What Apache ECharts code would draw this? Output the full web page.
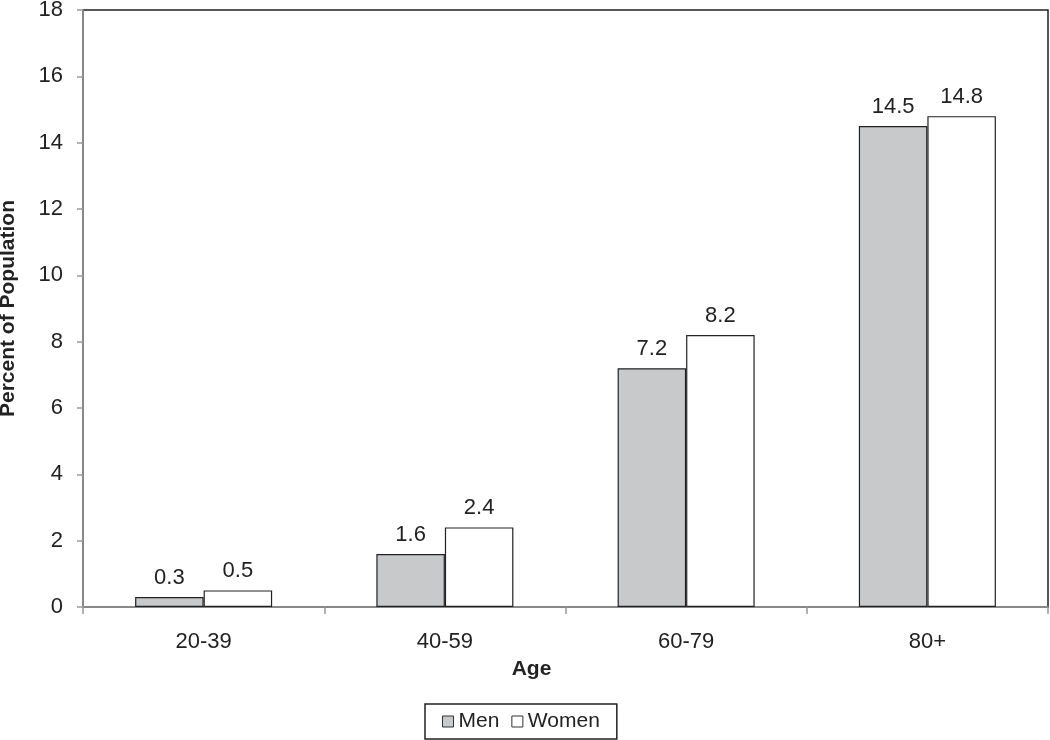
<!DOCTYPE html>
<html>
<head>
<meta charset="utf-8">
<script src="https://cdn.jsdelivr.net/npm/echarts@6/dist/echarts.min.js"></script>
<style>html,body{margin:0;padding:0;background:#fff}#c{width:1050px;height:740px}</style>
</head>
<body>
<div id="c"></div>
<script>
const categories = ['20-39', '40-59', '60-79', '80+'];
const men = [0.3, 1.6, 7.2, 14.5];
const women = [0.5, 2.4, 8.2, 14.8];
const yTicks = [0, 2, 4, 6, 8, 10, 12, 14, 16, 18];

const font = 'Liberation Sans, Arial, sans-serif';
const chart = echarts.init(document.getElementById('c'));
const labelCfg = {show: true, position: 'top', distance: 8, color: '#222', fontSize: 22, fontFamily: font, formatter: p => p.value.toFixed(1)};
chart.setOption({
  animation: false,
  textStyle: {fontFamily: font},
  grid: {left: 83, right: 2, top: 10, bottom: 133, show: true, borderColor: '#222', borderWidth: 1.5, outerBoundsMode: 'none', containLabel: false},
  legend: {
    bottom: 1, left: 425,
    data: ['Men', 'Women'],
    icon: 'rect', itemWidth: 11, itemHeight: 11, itemGap: 12,
    borderColor: '#222', borderWidth: 1.5, padding: [7, 17, 7, 17],
    textStyle: {fontSize: 21, color: '#222', fontFamily: font},
    itemStyle: {borderColor: '#333', borderWidth: 1}
  },
  xAxis: {
    type: 'category', data: categories,
    name: 'Age', nameLocation: 'middle', nameGap: 52,
    nameTextStyle: {fontSize: 21, fontWeight: 'bold', color: '#222', fontFamily: font, padding: [0, 68, 0, 0]},
    axisLine: {lineStyle: {color: '#999', width: 1.5}},
    axisTick: {show: true, length: 7, lineStyle: {color: '#999', width: 1.5}},
    axisLabel: {fontSize: 22, color: '#222', margin: 24, fontFamily: font}
  },
  yAxis: {
    type: 'value', min: 0, max: 18, interval: 2,
    name: 'Percent of Population', nameLocation: 'middle', nameGap: 64,
    nameTextStyle: {fontSize: 21, fontWeight: 'bold', color: '#222', fontFamily: font},
    axisLine: {show: true, lineStyle: {color: '#999', width: 1.5}},
    axisTick: {show: true, length: 6, lineStyle: {color: '#999', width: 1.5}},
    splitLine: {show: false},
    axisLabel: {fontSize: 22, color: '#222', margin: 20, fontFamily: font,
      formatter: v => yTicks.includes(v) ? String(v) : ''}
  },
  series: [
    {name: 'Men', type: 'bar', data: men, barWidth: '28.4%', barGap: '0%',
     itemStyle: {color: '#c8c9cb', borderColor: '#222', borderWidth: 1.2}, label: labelCfg},
    {name: 'Women', type: 'bar', data: women, barWidth: '28.4%', barGap: '0%',
     itemStyle: {color: '#ffffff', borderColor: '#222', borderWidth: 1.2}, label: labelCfg}
  ]
});
</script>
</body>
</html>
